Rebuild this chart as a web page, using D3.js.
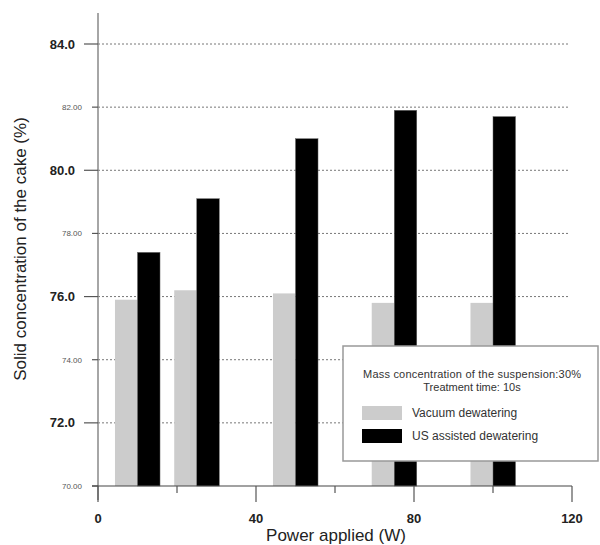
<!DOCTYPE html>
<html>
<head>
<meta charset="utf-8">
<script src="https://cdn.jsdelivr.net/npm/d3@7"></script>
<style>
  body { margin: 0; background: #fff; }
  svg { font-family: "Liberation Sans", Arial, Helvetica, sans-serif; }
</style>
</head>
<body>
<svg id="chart" width="600" height="545"></svg>
<script>
const width = 600, height = 545;

// data
const power = [10, 25, 50, 75, 100];
const vacuum = [75.9, 76.2, 76.1, 75.8, 75.8];
const usAssisted = [77.4, 79.1, 81.0, 81.9, 81.7];
const seriesNames = ["Vacuum dewatering", "US assisted dewatering"];
const yMajor = [72, 76, 80, 84];
const yMinor = [70, 74, 78, 82];
const xTicks = [0, 20, 40, 60, 80, 100, 120];
const xLabels = [0, 40, 80, 120];
const legendNote = ["Mass concentration of the suspension:30%", "Treatment time: 10s"];

const colors = ["#cccccc", "#000000"];

const svg = d3.select("#chart");

const x = d3.scaleLinear().domain([0, 120]).range([98, 572]);
const y = d3.scaleLinear().domain([70, 84]).range([486, 44]);
const barW = x(5.7) - x(0);

// --- GRID ---
svg.append("g")
  .selectAll("line")
  .data(d3.range(72, 84.1, 2))
  .enter()
  .append("line")
  .attr("x1", x(0)).attr("x2", 570)
  .attr("y1", d => y(d)).attr("y2", d => y(d))
  .attr("stroke", "#777")
  .attr("stroke-width", 1)
  .attr("stroke-dasharray", "2,2");

// --- BARS ---
const rows = power.map((p, i) => ({ p, v: [vacuum[i], usAssisted[i]] }));
rows.forEach(r => {
  r.v.forEach((val, k) => {
    svg.append("rect")
      .attr("x", k === 0 ? x(r.p) - barW : x(r.p))
      .attr("y", y(val))
      .attr("width", barW)
      .attr("height", y(70) - y(val))
      .attr("fill", colors[k])
      .attr("stroke", k === 0 ? "none" : "#666")
      .attr("stroke-width", 0.5);
  });
});

// --- Y AXIS ---
svg.append("line")
  .attr("x1", x(0)).attr("x2", x(0))
  .attr("y1", 13).attr("y2", 500)
  .attr("stroke", "#888").attr("stroke-width", 1.5);

const yAxisG = svg.append("g");
yAxisG.selectAll(".maj")
  .data(yMajor).enter().append("line")
  .attr("x1", 84).attr("x2", x(0))
  .attr("y1", d => y(d)).attr("y2", d => y(d))
  .attr("stroke", "#555").attr("stroke-width", 1.2);
yAxisG.selectAll(".min")
  .data(yMinor).enter().append("line")
  .attr("x1", 92).attr("x2", x(0))
  .attr("y1", d => y(d)).attr("y2", d => y(d))
  .attr("stroke", "#555").attr("stroke-width", 1.2);
yAxisG.selectAll(".majl")
  .data(yMajor).enter().append("text")
  .attr("x", 75).attr("y", d => y(d))
  .attr("dy", "0.35em")
  .attr("text-anchor", "end")
  .attr("font-size", 13).attr("font-weight", "bold")
  .attr("fill", "#222")
  .text(d => d3.format(".1f")(d));
yAxisG.selectAll(".minl")
  .data(yMinor).enter().append("text")
  .attr("x", 82).attr("y", d => y(d))
  .attr("dy", "0.35em")
  .attr("text-anchor", "end")
  .attr("font-size", 8)
  .attr("fill", "#555")
  .text(d => d3.format(".2f")(d));

// --- X AXIS ---
svg.append("line")
  .attr("x1", 92).attr("x2", x(120))
  .attr("y1", y(70)).attr("y2", y(70))
  .attr("stroke", "#444").attr("stroke-width", 1.2);
svg.append("g").selectAll("line")
  .data(xTicks).enter().append("line")
  .attr("x1", d => x(d)).attr("x2", d => x(d))
  .attr("y1", y(70))
  .attr("y2", d => xLabels.includes(d) ? 502 : 493)
  .attr("stroke", "#555").attr("stroke-width", 1.2);
svg.append("g").selectAll("text")
  .data(xLabels).enter().append("text")
  .attr("x", d => x(d)).attr("y", 523)
  .attr("text-anchor", "middle")
  .attr("font-size", 13).attr("font-weight", "bold")
  .attr("fill", "#222")
  .text(d => d);

// --- TITLES ---
svg.append("text")
  .attr("x", 336).attr("y", 541)
  .attr("text-anchor", "middle")
  .attr("font-size", 17).attr("fill", "#222")
  .text("Power applied (W)");
svg.append("text")
  .attr("transform", "translate(26,249) rotate(-90)")
  .attr("text-anchor", "middle")
  .attr("font-size", 17).attr("fill", "#222")
  .text("Solid concentration of the cake (%)");

// --- LEGEND ---
const lg = svg.append("g");
lg.append("rect")
  .attr("x", 343).attr("y", 346)
  .attr("width", 255).attr("height", 115)
  .attr("fill", "#fff")
  .attr("stroke", "#999").attr("stroke-width", 1.5);
lg.selectAll(".note")
  .data(legendNote).enter().append("text")
  .attr("x", 472).attr("y", (d, i) => 378 + i * 13)
  .attr("text-anchor", "middle")
  .attr("font-size", 11).attr("fill", "#333")
  .attr("textLength", (d, i) => i === 0 ? 218 : null)
  .text(d => d);
seriesNames.forEach((name, i) => {
  lg.append("rect")
    .attr("x", 362).attr("y", 406 + i * 23)
    .attr("width", 40).attr("height", 14)
    .attr("fill", colors[i]);
  lg.append("text")
    .attr("x", 412).attr("y", 417 + i * 23)
    .attr("font-size", 12).attr("fill", "#333")
    .text(name);
});
</script>
</body>
</html>
